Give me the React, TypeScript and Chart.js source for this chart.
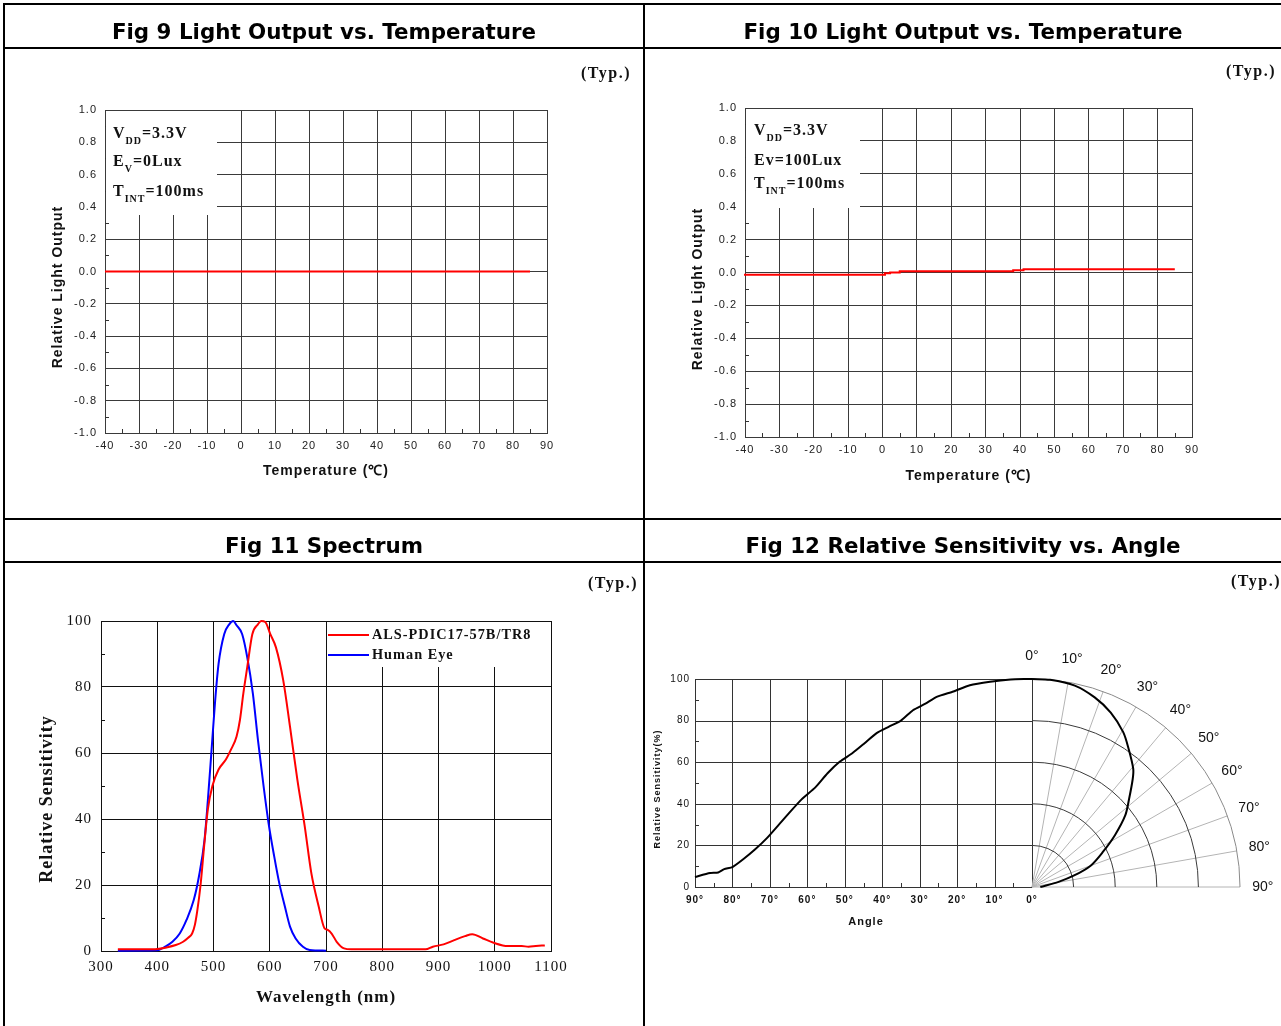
import React, { useEffect, useRef } from "react";
import { Chart, registerables } from "chart.js";
Chart.register(...registerables);

// ---------- DATA ----------
// Fig 9
const fig9Temperature = [-40, -30, -20, -10, 0, 10, 20, 30, 40, 50, 60, 70, 80, 85];
const fig9Output = [0, 0, 0, 0, 0, 0, 0, 0, 0, 0, 0, 0, 0, 0];
// Fig 10
const fig10Temperature = [-40, 0.7, 2.2, 5, 38, 41, 45, 85];
const fig10Output = [-0.02, -0.014, -0.004, 0, 0.008, 0.014, 0.02, 0.02];
const temperatureTicks = [-40, -30, -20, -10, 0, 10, 20, 30, 40, 50, 60, 70, 80, 90];
const outputTicks = [-1, -0.8, -0.6, -0.4, -0.2, 0, 0.2, 0.4, 0.6, 0.8, 1];
// Fig 11
const alsWavelength = [330, 350, 380, 400, 414, 433, 446, 455, 462, 467, 471, 477, 484, 490, 498, 509, 522, 531, 541, 547, 553, 560, 569, 579, 585, 592, 601, 611, 624, 636, 649, 662, 674, 687, 697, 703, 710, 719, 732, 745, 800, 877, 890, 909, 928, 947, 960, 979, 998, 1023, 1048, 1060, 1073, 1089];
const alsSensitivity = [0.5, 0.5, 0.5, 0.6, 1, 1.8, 2.8, 4, 5.3, 8, 12, 20, 33, 43, 50, 55, 58, 61, 65, 70, 78, 86, 96, 99, 100, 99.7, 96, 92, 82, 68, 52, 38, 23.5, 13.5, 7, 6.4, 5.3, 2.8, 0.8, 0.5, 0.5, 0.5, 1.3, 2, 3.3, 4.5, 5.1, 3.8, 2.5, 1.5, 1.5, 1.3, 1.5, 1.7];
const eyeWavelength = [330, 400, 414, 427, 440, 452, 465, 474, 484, 490, 497, 503, 509, 519, 528, 535, 541, 551, 560, 570, 579, 589, 598, 608, 617, 627, 636, 646, 659, 671, 700];
const eyeSensitivity = [0.1, 0.2, 1.3, 2.8, 5.3, 9.4, 15.5, 22.5, 33.6, 45.7, 62, 76, 87, 96, 99, 100, 98.7, 96, 89, 78, 64, 50, 38.6, 28.6, 20.5, 13.4, 7.4, 3.8, 1.3, 0.3, 0.1];
const wavelengthTicks = [300, 400, 500, 600, 700, 800, 900, 1000, 1100];
const spectrumTicks = [0, 20, 40, 60, 80, 100];
// Fig 12
const sensAngle = [90, 86, 83.8, 82.2, 80, 77.3, 74, 70.8, 67.6, 64.9, 61.6, 57.8, 54.6, 51.3, 48, 44.8, 41.5, 38.3, 35, 31.8, 28.6, 25.3, 21, 16.6, 11.2, 5.7, 1.9, 0];
const sensValue = [4.8, 6.7, 7, 8.6, 9.6, 13.1, 18, 23.5, 30, 35.5, 42, 48, 54.7, 60.3, 64.3, 69, 74, 77, 80, 85, 88, 91.5, 94, 97, 98.7, 99.8, 100, 100];
const polarAngle = [0, 5, 12, 18.3, 24.3, 30.5, 35, 40.6, 43, 47.8, 52.5, 58, 63.7, 70, 74.7, 79, 90];
const polarRadius = [100, 100, 99, 96, 92, 86.4, 81, 74.8, 71, 63, 56.5, 47, 38, 30, 21, 13, 4];
const angleTicks = [90, 80, 70, 60, 50, 40, 30, 20, 10, 0];
const sensTicks = [0, 20, 40, 60, 80, 100];
const polarRings = [20, 40, 60, 80, 100];
const polarSpokes = [10, 20, 30, 40, 50, 60, 70, 80, 90];
const polarLabels = [0, 10, 20, 30, 40, 50, 60, 70, 80, 90];

// ---------- HELPERS ----------
const SANS = '"Liberation Sans", Arial, sans-serif';
const SERIF = '"Liberation Serif", "Times New Roman", serif';

type Part = { t: string; sub?: boolean };
function drawRich(ctx: CanvasRenderingContext2D, x: number, y: number, parts: Part[]) {
  let cx = x;
  for (const p of parts) {
    ctx.font = `bold ${p.sub ? 10 : 16}px ${SERIF}`;
    ctx.fillText(p.t, cx, p.sub ? y + 6 : y);
    cx += ctx.measureText(p.t).width;
  }
}

function drawRotated(ctx: CanvasRenderingContext2D, text: string, x: number, y: number, font: string) {
  ctx.save();
  ctx.translate(x, y);
  ctx.rotate(-Math.PI / 2);
  ctx.font = font;
  ctx.textAlign = "center";
  ctx.textBaseline = "middle";
  ctx.fillStyle = "#111";
  ctx.fillText(text, 0, 0);
  ctx.restore();
}

function fixedTicks(values: number[]) {
  return (s: any) => {
    s.ticks = values.map((v) => ({ value: v }));
  };
}

function tempChart(
  temps: number[],
  outs: number[],
  stepped: boolean,
  area: { w: number; h: number; l: number; t: number; r: number; b: number },
  boxRight: number,
  boxBottom: number,
  rows: { y: number; parts: Part[] }[],
  textX: number,
  xTitleY: number,
  yTitle: { x: number; y: number }
) {
  const decor = {
    id: "tempDecor",
    beforeDraw(chart: any) {
      chart.ctx.letterSpacing = "1px";
    },
    beforeDatasetsDraw(chart: any) {
      const { ctx, chartArea: a, scales } = chart;
      const x = scales.x;
      const y = scales.y;
      ctx.save();
      ctx.strokeStyle = "#333";
      ctx.lineWidth = 1;
      ctx.beginPath();
      for (let i = 0; i < outputTicks.length - 1; i++) {
        const v = (outputTicks[i] + outputTicks[i + 1]) / 2;
        const py = Math.round(y.getPixelForValue(v)) + 0.5;
        ctx.moveTo(a.left, py);
        ctx.lineTo(a.left + 4, py);
      }
      for (let i = 0; i < temperatureTicks.length - 1; i++) {
        const v = (temperatureTicks[i] + temperatureTicks[i + 1]) / 2;
        const px = Math.round(x.getPixelForValue(v)) + 0.5;
        ctx.moveTo(px, a.bottom);
        ctx.lineTo(px, a.bottom - 4);
      }
      ctx.stroke();
      ctx.fillStyle = "#fff";
      ctx.fillRect(a.left + 1, a.top + 1, boxRight - a.left - 1, boxBottom - a.top - 1);
      ctx.fillStyle = "#111";
      ctx.textAlign = "left";
      ctx.textBaseline = "alphabetic";
      for (const r of rows) drawRich(ctx, textX, r.y, r.parts);
      ctx.restore();
      drawRotated(ctx, "Relative Light Output", yTitle.x, yTitle.y, `bold 14px ${SANS}`);
    },
  };
  return {
    type: "line",
    data: {
      datasets: [
        {
          data: temps.map((t, i) => ({ x: t, y: outs[i] })),
          borderColor: "#ff0000",
          borderWidth: 2,
          pointRadius: 0,
          stepped: stepped ? "after" : false,
          clip: false,
        },
      ],
    },
    options: {
      animation: false,
      responsive: false,
      layout: { padding: { left: 0, top: area.t, right: area.w - area.r, bottom: 0 } },
      plugins: { legend: { display: false }, tooltip: { enabled: false } },
      scales: {
        x: {
          type: "linear",
          min: -40,
          max: 90,
          afterBuildTicks: fixedTicks(temperatureTicks),
          afterFit: (s: any) => {
            s.height = area.h - area.b;
          },
          grid: { color: "#3a3a3a", drawTicks: false },
          border: { color: "#3a3a3a" },
          ticks: {
            padding: 6,
            color: "#222",
            autoSkip: false,
            maxRotation: 0,
            font: { family: SANS, size: 11 },
            callback: (v: any) => String(v),
          },
          title: {
            display: true,
            text: "Temperature (℃)",
            color: "#111",
            font: { family: SANS, size: 14, weight: "bold" },
            padding: { top: 0, bottom: area.h - xTitleY - 8.4 },
          },
        },
        y: {
          type: "linear",
          min: -1,
          max: 1,
          afterBuildTicks: fixedTicks(outputTicks),
          afterFit: (s: any) => {
            s.width = area.l;
          },
          grid: { color: "#3a3a3a", drawTicks: false },
          border: { color: "#3a3a3a" },
          ticks: {
            padding: 8,
            color: "#222",
            font: { family: SANS, size: 11 },
            callback: (v: any) => {
              const n = Number(v);
              return Math.abs(n) < 1e-9 ? "0.0" : n.toFixed(1);
            },
          },
        },
      },
    },
    plugins: [decor],
  };
}

function fig9Config() {
  return tempChart(
    fig9Temperature,
    fig9Output,
    false,
    { w: 638, h: 469, l: 100, t: 61, r: 542, b: 384 },
    212,
    166,
    [
      { y: 88.5, parts: [{ t: "V" }, { t: "DD", sub: true }, { t: "=3.3V" }] },
      { y: 117, parts: [{ t: "E" }, { t: "V", sub: true }, { t: "=0Lux" }] },
      { y: 147, parts: [{ t: "T" }, { t: "INT", sub: true }, { t: "=100ms" }] },
    ],
    108,
    422,
    { x: 53, y: 238 }
  );
}

function fig10Config() {
  return tempChart(
    fig10Temperature,
    fig10Output,
    true,
    { w: 636, h: 469, l: 100, t: 59, r: 547, b: 388 },
    215,
    159,
    [
      { y: 86, parts: [{ t: "V" }, { t: "DD", sub: true }, { t: "=3.3V" }] },
      { y: 116, parts: [{ t: "Ev=100Lux" }] },
      { y: 139, parts: [{ t: "T" }, { t: "INT", sub: true }, { t: "=100ms" }] },
    ],
    109,
    427,
    { x: 53, y: 240 }
  );
}

function fig11Config() {
  const W = 638, H = 463, L = 96, T = 58, R = 546, B = 388;
  const decor = {
    id: "specDecor",
    beforeDraw(chart: any) {
      chart.ctx.letterSpacing = "1px";
    },
    beforeDatasetsDraw(chart: any) {
      const { ctx, chartArea: a, scales } = chart;
      const x = scales.x;
      const y = scales.y;
      ctx.save();
      ctx.strokeStyle = "#111";
      ctx.lineWidth = 1;
      ctx.beginPath();
      for (let i = 0; i < spectrumTicks.length - 1; i++) {
        const v = (spectrumTicks[i] + spectrumTicks[i + 1]) / 2;
        const py = Math.round(y.getPixelForValue(v)) + 0.5;
        ctx.moveTo(a.left, py);
        ctx.lineTo(a.left + 4, py);
      }
      ctx.stroke();
      const bx = x.getPixelForValue(700) + 1;
      ctx.fillStyle = "#fff";
      ctx.fillRect(bx, a.top + 1, a.right - bx - 1, 104 - a.top - 1);
      // legend
      ctx.lineWidth = 2;
      ctx.strokeStyle = "#ff0000";
      ctx.beginPath();
      ctx.moveTo(323, 72);
      ctx.lineTo(364, 72);
      ctx.stroke();
      ctx.strokeStyle = "#0000ff";
      ctx.beginPath();
      ctx.moveTo(323, 92);
      ctx.lineTo(364, 92);
      ctx.stroke();
      ctx.fillStyle = "#111";
      ctx.font = `bold 14.3px ${SERIF}`;
      ctx.textAlign = "left";
      ctx.textBaseline = "middle";
      ctx.fillText("ALS-PDIC17-57B/TR8", 367, 72);
      ctx.fillText("Human Eye", 367, 92);
      ctx.restore();
      drawRotated(ctx, "Relative Sensitivity", 42, 236, `bold 18px ${SERIF}`);
    },
  };
  return {
    type: "line",
    data: {
      datasets: [
        {
          data: alsWavelength.map((w, i) => ({ x: w, y: alsSensitivity[i] })),
          borderColor: "#ff0000",
          borderWidth: 2,
          pointRadius: 0,
          cubicInterpolationMode: "monotone",
          clip: false,
        },
        {
          data: eyeWavelength.map((w, i) => ({ x: w, y: eyeSensitivity[i] })),
          borderColor: "#0000ff",
          borderWidth: 2,
          pointRadius: 0,
          cubicInterpolationMode: "monotone",
          clip: false,
        },
      ],
    },
    options: {
      animation: false,
      responsive: false,
      layout: { padding: { left: 0, top: T, right: W - R, bottom: 0 } },
      plugins: { legend: { display: false }, tooltip: { enabled: false } },
      scales: {
        x: {
          type: "linear",
          min: 300,
          max: 1100,
          afterBuildTicks: fixedTicks(wavelengthTicks),
          afterFit: (s: any) => {
            s.height = H - B;
          },
          grid: { color: "#111", drawTicks: false },
          border: { color: "#111" },
          ticks: {
            padding: 7,
            color: "#111",
            autoSkip: false,
            maxRotation: 0,
            font: { family: SERIF, size: 15 },
            callback: (v: any) => String(v),
          },
          title: {
            display: true,
            text: "Wavelength (nm)",
            color: "#111",
            font: { family: SERIF, size: 17, weight: "bold" },
            padding: { top: 0, bottom: H - 435 - 10.2 },
          },
        },
        y: {
          type: "linear",
          min: 0,
          max: 100,
          afterBuildTicks: fixedTicks(spectrumTicks),
          afterFit: (s: any) => {
            s.width = L;
          },
          grid: { color: "#111", drawTicks: false },
          border: { color: "#111" },
          ticks: {
            padding: 9,
            color: "#111",
            font: { family: SERIF, size: 15 },
            callback: (v: any) => String(v),
          },
        },
      },
    },
    plugins: [decor],
  };
}

function fig12Config() {
  const W = 636, H = 463, L = 50, T = 116, R = 597, B = 324;
  const leftW = 337; // pixel width of the 90..0 degree part
  const areaW = R - L;
  const areaH = B - T;
  const unitPx = areaH / 100;
  const angleMin = 90 - (areaW * 90) / leftW;
  const xpMin = -leftW / unitPx;
  const xpMax = (areaW - leftW) / unitPx;
  const decor = {
    id: "angleDecor",
    beforeDraw(chart: any) {
      chart.ctx.letterSpacing = "1px";
    },
    beforeDatasetsDraw(chart: any) {
      const { ctx, scales } = chart;
      const x = scales.x;
      const y = scales.y;
      const xp = scales.xp;
      const al = (p: number) => Math.round(p) + 0.5;
      ctx.save();
      ctx.strokeStyle = "#333";
      ctx.lineWidth = 1;
      ctx.beginPath();
      const x90 = x.getPixelForValue(90);
      const x0 = x.getPixelForValue(0);
      for (const a of angleTicks) {
        const px = al(x.getPixelForValue(a));
        ctx.moveTo(px, y.getPixelForValue(100));
        ctx.lineTo(px, y.getPixelForValue(0));
      }
      for (const s of sensTicks) {
        const py = al(y.getPixelForValue(s));
        ctx.moveTo(x90, py);
        ctx.lineTo(x0, py);
      }
      for (let i = 0; i < sensTicks.length - 1; i++) {
        const py = al(y.getPixelForValue((sensTicks[i] + sensTicks[i + 1]) / 2));
        ctx.moveTo(x90, py);
        ctx.lineTo(x90 + 4, py);
      }
      for (let i = 0; i < angleTicks.length - 1; i++) {
        const px = al(x.getPixelForValue((angleTicks[i] + angleTicks[i + 1]) / 2));
        ctx.moveTo(px, y.getPixelForValue(0));
        ctx.lineTo(px, y.getPixelForValue(0) - 4);
      }
      ctx.stroke();
      // polar grid
      const cx = xp.getPixelForValue(0);
      const cy = y.getPixelForValue(0);
      const rxOf = (r: number) => xp.getPixelForValue(r) - cx;
      const ryOf = (r: number) => cy - y.getPixelForValue(r);
      ctx.strokeStyle = "#b4b4b4";
      ctx.beginPath();
      for (const s of polarSpokes) {
        const t = (s * Math.PI) / 180;
        ctx.moveTo(cx, cy);
        ctx.lineTo(cx + rxOf(100) * Math.sin(t), cy - ryOf(100) * Math.cos(t));
      }
      ctx.stroke();
      for (const r of polarRings) {
        ctx.strokeStyle = r === 100 ? "#8a8a8a" : "#3a3a3a";
        ctx.beginPath();
        ctx.ellipse(cx, cy, rxOf(r), ryOf(r), 0, -Math.PI / 2, 0);
        ctx.stroke();
      }
      ctx.letterSpacing = "0px";
      ctx.fillStyle = "#111";
      ctx.font = `14px ${SANS}`;
      ctx.textAlign = "center";
      ctx.textBaseline = "middle";
      for (const d of polarLabels) {
        const t = (d * Math.PI) / 180;
        ctx.fillText(`${d}°`, cx + rxOf(111) * Math.sin(t), cy - ryOf(111) * Math.cos(t));
      }
      ctx.restore();
      drawRotated(ctx, "Relative Sensitivity(%)", 13, 226, `bold 9px ${SANS}`);
      ctx.save();
      ctx.fillStyle = "#111";
      ctx.font = `bold 11px ${SANS}`;
      ctx.textAlign = "center";
      ctx.textBaseline = "middle";
      ctx.fillText("Angle", 221, 359);
      ctx.restore();
    },
  };
  return {
    type: "line",
    data: {
      datasets: [
        {
          data: sensAngle.map((a, i) => ({ x: a, y: sensValue[i] })),
          xAxisID: "x",
          borderColor: "#000",
          borderWidth: 2,
          pointRadius: 0,
          tension: 0.2,
          clip: false,
        },
        {
          data: polarAngle.map((a, i) => ({
            x: polarRadius[i] * Math.sin((a * Math.PI) / 180),
            y: polarRadius[i] * Math.cos((a * Math.PI) / 180),
          })),
          xAxisID: "xp",
          borderColor: "#000",
          borderWidth: 2,
          pointRadius: 0,
          tension: 0.3,
          clip: false,
        },
      ],
    },
    options: {
      animation: false,
      responsive: false,
      layout: { padding: { left: 0, top: T, right: W - R, bottom: 0 } },
      plugins: { legend: { display: false }, tooltip: { enabled: false } },
      scales: {
        x: {
          type: "linear",
          reverse: true,
          min: angleMin,
          max: 90,
          afterBuildTicks: fixedTicks(angleTicks),
          afterFit: (s: any) => {
            s.height = H - B;
          },
          grid: { display: false, drawTicks: false },
          border: { display: false },
          ticks: {
            padding: 7,
            color: "#111",
            autoSkip: false,
            maxRotation: 0,
            font: { family: SANS, size: 10, weight: "bold" },
            callback: (v: any) => `${v}°`,
          },
        },
        xp: {
          type: "linear",
          display: false,
          min: xpMin,
          max: xpMax,
        },
        y: {
          type: "linear",
          min: 0,
          max: 100,
          afterBuildTicks: fixedTicks(sensTicks),
          afterFit: (s: any) => {
            s.width = L;
          },
          grid: { display: false, drawTicks: false },
          border: { display: false },
          ticks: {
            padding: 5,
            color: "#111",
            font: { family: SANS, size: 10 },
            callback: (v: any) => String(v),
          },
        },
      },
    },
    plugins: [decor],
  };
}

function ChartCanvas(props: { left: number; top: number; width: number; height: number; make: () => any }) {
  const ref = useRef<HTMLCanvasElement>(null);
  useEffect(() => {
    const chart = new Chart(ref.current as HTMLCanvasElement, props.make());
    return () => chart.destroy();
  }, []);
  return (
    <canvas
      ref={ref}
      width={props.width}
      height={props.height}
      style={{ position: "absolute", left: props.left, top: props.top, width: props.width, height: props.height }}
    />
  );
}

const lineStyle = (left: number, top: number, width: number, height: number): React.CSSProperties => ({
  position: "absolute",
  left,
  top,
  width,
  height,
  background: "#000",
  zIndex: 2,
});

function Header(props: { left: number; top: number; width: number; text: string }) {
  return (
    <div
      style={{
        position: "absolute",
        left: props.left,
        top: props.top,
        width: props.width,
        height: 42,
        lineHeight: "42px",
        textAlign: "center",
        fontFamily: '"DejaVu Sans", Verdana, sans-serif',
        fontWeight: "bold",
        fontSize: 21.4,
        color: "#000",
        whiteSpace: "nowrap",
      }}
    >
      {props.text}
    </div>
  );
}

function Typ(props: { right: number; top: number }) {
  return (
    <div
      style={{
        position: "absolute",
        left: props.right - 70,
        width: 70,
        top: props.top,
        textAlign: "right",
        fontFamily: SERIF,
        fontWeight: "bold",
        fontSize: 16,
        lineHeight: "18px",
        letterSpacing: "1.5px",
        color: "#111",
        zIndex: 3,
      }}
    >
      (Typ.)
    </div>
  );
}

export default function App() {
  return (
    <div style={{ position: "relative", width: 1281, height: 1026, overflow: "hidden", background: "#fff" }}>
      <style>{`body{margin:0;background:#fff;}`}</style>
      <ChartCanvas left={5} top={49} width={638} height={469} make={fig9Config} />
      <ChartCanvas left={645} top={49} width={636} height={469} make={fig10Config} />
      <ChartCanvas left={5} top={563} width={638} height={463} make={fig11Config} />
      <ChartCanvas left={645} top={563} width={636} height={463} make={fig12Config} />
      <Header left={5} top={11} width={638} text="Fig 9 Light Output vs. Temperature" />
      <Header left={645} top={11} width={636} text="Fig 10 Light Output vs. Temperature" />
      <Header left={5} top={525} width={638} text="Fig 11 Spectrum" />
      <Header left={645} top={525} width={636} text="Fig 12 Relative Sensitivity vs. Angle" />
      <Typ right={631} top={64} />
      <Typ right={1276} top={62} />
      <Typ right={638} top={574} />
      <Typ right={1281} top={572} />
      <div style={lineStyle(3, 3, 1280, 2)} />
      <div style={lineStyle(3, 47, 1280, 2)} />
      <div style={lineStyle(3, 518, 1280, 2)} />
      <div style={lineStyle(3, 561, 1280, 2)} />
      <div style={lineStyle(3, 3, 2, 1030)} />
      <div style={lineStyle(643, 3, 2, 1030)} />
    </div>
  );
}
